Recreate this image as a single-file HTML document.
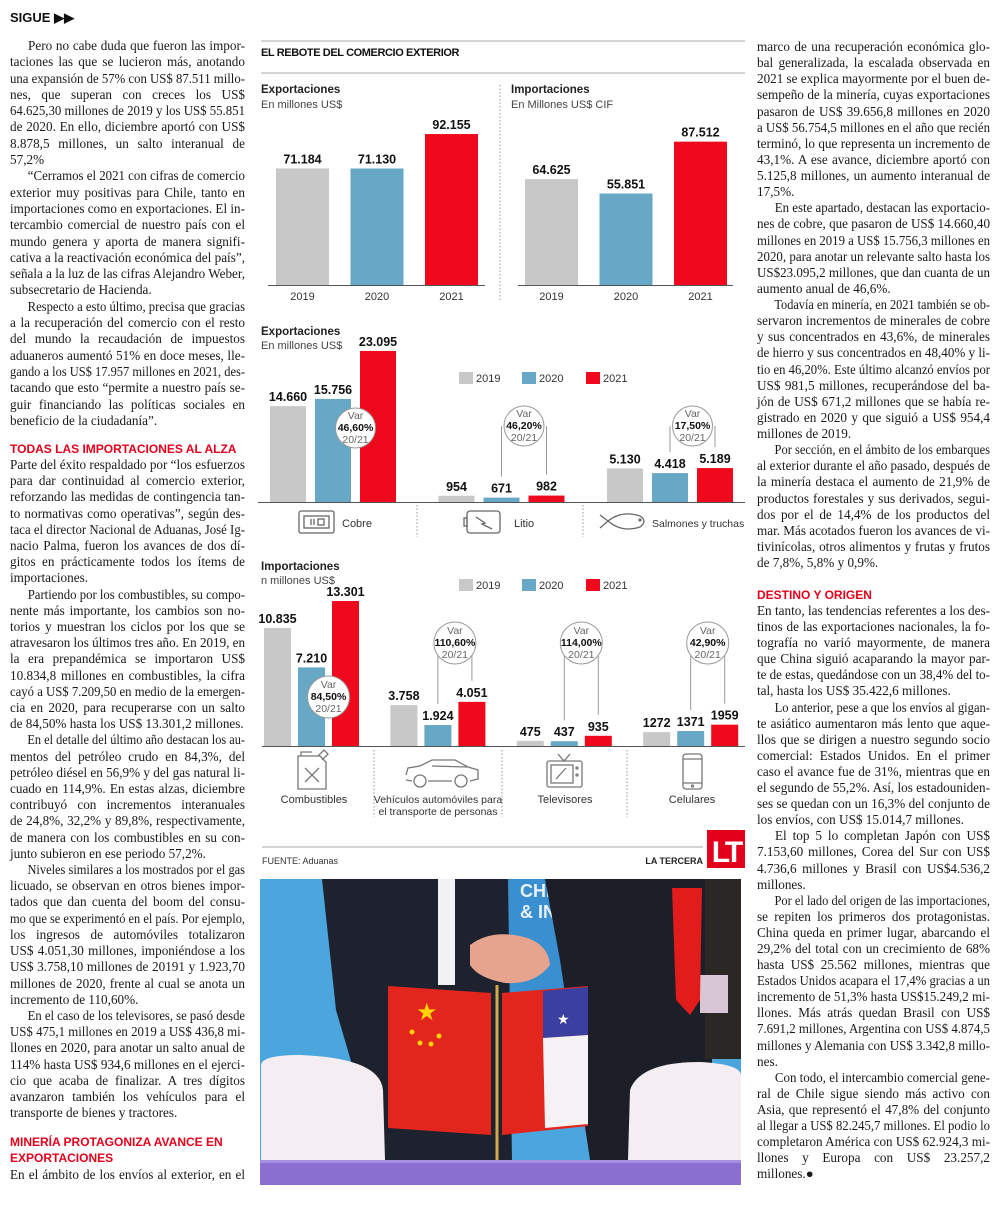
<!DOCTYPE html>
<html><head><meta charset="utf-8">
<style>
html,body{margin:0;padding:0;background:#fff;}
body{width:1000px;height:1213px;position:relative;overflow:hidden;}
#chart{position:absolute;left:0;top:0;}
.col{position:absolute;font-family:"Liberation Serif",serif;font-size:13.2px;color:#1a1a1a;}
.l{white-space:nowrap;text-align:justify;text-align-last:justify;overflow:visible;}
.l.e{text-align:left;text-align-last:left;}
.l.i{text-indent:9px;}
.l span{display:inline-block;transform-origin:0 50%;}
.hd{position:absolute;font-family:"Liberation Sans",sans-serif;font-weight:bold;font-size:12px;color:#e3001b;white-space:nowrap;}
</style></head>
<body>
<svg id="chart" width="1000" height="1213" viewBox="0 0 1000 1213" xmlns="http://www.w3.org/2000/svg" font-family="Liberation Sans, sans-serif">
  <text x="10" y="22" font-size="13" font-weight="bold" fill="#111">SIGUE ▶▶</text>
  <line x1="261" y1="41" x2="745" y2="41" stroke="#aaa" stroke-width="1"/>
  <text x="261" y="56" font-size="11" font-weight="bold" fill="#111" letter-spacing="-0.4">EL REBOTE DEL COMERCIO EXTERIOR</text>
  <line x1="261" y1="73" x2="745" y2="73" stroke="#aaa" stroke-width="1"/>
  <text x="261" y="93" font-size="11.5" font-weight="bold" fill="#222">Exportaciones</text>
  <text x="261" y="108" font-size="11" fill="#444">En millones US$</text>
  <text x="511" y="93" font-size="11.5" font-weight="bold" fill="#222">Importaciones</text>
  <text x="511" y="108" font-size="11" fill="#444">En Millones US$ CIF</text>
  <line x1="500" y1="85" x2="500" y2="302" stroke="#999" stroke-dasharray="1.5,2"/>
  <line x1="268" y1="285.5" x2="485" y2="285.5" stroke="#555"/>
  <line x1="518" y1="285.5" x2="733" y2="285.5" stroke="#555"/>

  <text x="261" y="335" font-size="11.5" font-weight="bold" fill="#222">Exportaciones</text>
  <text x="261" y="349" font-size="11" fill="#444">En millones US$</text>
  <line x1="258" y1="502.5" x2="745" y2="502.5" stroke="#555"/>
  <line x1="417" y1="505" x2="417" y2="537" stroke="#999" stroke-dasharray="1.5,2"/>
  <line x1="583" y1="505" x2="583" y2="537" stroke="#999" stroke-dasharray="1.5,2"/>
  <g fill="none" stroke="#666" stroke-width="1.3">
    <rect x="299" y="511" width="35" height="22" rx="2"/><rect x="304" y="516" width="25" height="12"/>
    <line x1="311" y1="519" x2="311" y2="525"/><line x1="314" y1="519" x2="314" y2="525"/><rect x="318" y="519" width="6" height="6"/>
  </g>
  <text x="342" y="527" font-size="11" fill="#333">Cobre</text>
  <g fill="none" stroke="#666" stroke-width="1.3">
    <rect x="467" y="511" width="33" height="22" rx="3"/><rect x="464" y="518" width="3" height="8"/>
    <path d="M476 517 L485 523 L482 524 L492 529"/>
  </g>
  <text x="514" y="527" font-size="11" fill="#333">Litio</text>
  <g fill="none" stroke="#666" stroke-width="1.3">
    <path d="M600 515 L608 521 L600 528 M608 521 Q622 510 640 516 Q648 521 640 527 Q622 533 608 521"/><circle cx="640" cy="520" r="1"/>
  </g>
  <text x="652" y="527" font-size="10.5" fill="#333">Salmones y truchas</text>

  <text x="261" y="570" font-size="11.5" font-weight="bold" fill="#222">Importaciones</text>
  <text x="261" y="584" font-size="11" fill="#444">n millones US$</text>
  <line x1="262" y1="746.5" x2="745" y2="746.5" stroke="#555"/>
  <line x1="374" y1="750" x2="374" y2="817" stroke="#999" stroke-dasharray="1.5,2"/>
  <line x1="502" y1="750" x2="502" y2="817" stroke="#999" stroke-dasharray="1.5,2"/>
  <line x1="627" y1="750" x2="627" y2="817" stroke="#999" stroke-dasharray="1.5,2"/>
  <g fill="none" stroke="#777" stroke-width="1.3">
    <path d="M298 756 L320 756 L326 762 L326 789 L298 789 Z"/><path d="M318 756 L324 750 L328 754 L322 760"/>
    <path d="M305 768 L319 782 M319 768 L305 782"/><path d="M301 756 L301 752 L312 752"/>
  </g>
  <text x="314" y="803" font-size="11" fill="#333" text-anchor="middle">Combustibles</text>
  <g fill="none" stroke="#777" stroke-width="1.3">
    <path d="M406 775 L408 768 L420 766 L432 760 L455 760 L468 767 L478 770 L478 779 L470 781 M452 781 L428 781 M412 781 L406 780 Z"/>
    <circle cx="420" cy="781" r="6"/><circle cx="461" cy="781" r="6"/><line x1="432" y1="766" x2="467" y2="767"/>
  </g>
  <text x="438" y="803" font-size="10.5" fill="#333" text-anchor="middle">Vehículos automóviles para</text>
  <text x="438" y="815" font-size="10.5" fill="#333" text-anchor="middle">el transporte de personas</text>
  <g fill="none" stroke="#777" stroke-width="1.3">
    <rect x="547" y="761" width="35" height="26" rx="2"/><rect x="551" y="765" width="22" height="18"/>
    <path d="M556 779 L566 768 M558 754 L564 761 L570 754"/><circle cx="577" cy="768" r="1"/><circle cx="577" cy="775" r="1"/>
  </g>
  <text x="565" y="803" font-size="11" fill="#333" text-anchor="middle">Televisores</text>
  <g fill="none" stroke="#777" stroke-width="1.3">
    <rect x="683" y="754" width="19" height="35" rx="3"/><line x1="683" y1="759" x2="702" y2="759"/><line x1="683" y1="783" x2="702" y2="783"/><circle cx="692.5" cy="786" r="1"/>
  </g>
  <text x="692" y="803" font-size="11" fill="#333" text-anchor="middle">Celulares</text>

  <line x1="262" y1="847" x2="703" y2="847" stroke="#aaa"/>
  <text x="262" y="864" font-size="9" fill="#333">FUENTE: Aduanas</text>
  <text x="703" y="864" font-size="9" font-weight="bold" fill="#222" text-anchor="end">LA TERCERA</text>
  <rect x="707" y="830" width="38" height="38" fill="#e3001b"/>
  <text x="726" y="862" font-size="30" font-weight="bold" fill="#fff" text-anchor="middle" letter-spacing="-3">LT</text>

  <g>
    <clipPath id="ph"><rect x="260" y="879" width="481" height="306"/></clipPath>
    <g clip-path="url(#ph)">
      <rect x="260" y="879" width="481" height="306" fill="#4aa6dc"/>
      <rect x="505" y="879" width="150" height="180" fill="#3a8fd0"/>
      <text x="520" y="897" font-size="18" font-weight="bold" fill="#e8f2fb">CHILE I</text>
      <text x="520" y="918" font-size="18" font-weight="bold" fill="#e8f2fb">&amp; INVE</text>
      <ellipse cx="640" cy="1110" rx="60" ry="60" fill="#6a8fe0" opacity="0.7"/>
      <path d="M322 879 L508 879 L512 1160 L380 1160 L336 1010 Z" fill="#1e222f"/>
      <rect x="438" y="879" width="17" height="106" fill="#f2f2f2"/>
      <path d="M545 879 L712 879 L712 1070 L650 1160 L590 1160 L560 960 Z" fill="#1c1f28"/>
      <rect x="705" y="879" width="36" height="180" fill="#2b2724"/>
      <rect x="700" y="975" width="28" height="38" fill="#d8c6d6"/>
      <path d="M672 888 L702 888 L700 1000 L690 1015 L676 1000 Z" fill="#e21b1b"/>
      <path d="M470 945 Q490 930 520 936 Q548 942 550 965 Q535 985 505 983 Q478 978 470 965 Z" fill="#e6a38d"/>
      <path d="M261 1065 Q262 1055 300 1055 Q380 1058 383 1090 L385 1160 L261 1160 Z" fill="#f4eef3"/>
      <path d="M628 1160 L630 1090 Q640 1062 700 1062 Q740 1064 741 1075 L741 1160 Z" fill="#f4eef3"/>
      <path d="M388 986 L491 993 L491 1135 L388 1128 Z" fill="#e3261d"/>
      <text x="416" y="1020" font-size="24" fill="#ffd400">★</text>
      <circle cx="412" cy="1032" r="2.5" fill="#ffd400"/><circle cx="420" cy="1043" r="2.5" fill="#ffd400"/><circle cx="431" cy="1044" r="2.5" fill="#ffd400"/><circle cx="439" cy="1036" r="2.5" fill="#ffd400"/>
      <path d="M502 993 L588 986 L588 1126 L502 1135 Z" fill="#e3261d"/>
      <path d="M543 991 L588 987 L588 1035 L543 1038 Z" fill="#3a3fa0"/>
      <path d="M543 1038 L588 1035 L588 1124 L545 1128 Z" fill="#f5f2f5"/>
      <text x="557" y="1024" font-size="14" fill="#fff">★</text>
      <line x1="497" y1="985" x2="497" y2="1168" stroke="#d4a94a" stroke-width="3"/>
      <rect x="260" y="1160" width="481" height="25" fill="#8a6fd0"/>
      <rect x="260" y="1160" width="481" height="3" fill="#a58fe0"/>
    </g>
  </g>
  <g id="marks"></g>
</svg>

<div class="col" id="left" style="left:10px;top:0;width:235px;">
<div style="position:absolute;top:38px;left:0;width:235px;line-height:16.3px;">
<div class="l i">Pero no cabe duda que fueron las impor-</div>
<div class="l">taciones las que se lucieron más, anotando</div>
<div class="l">una expansión de 57% con US$ 87.511 millo-</div>
<div class="l">nes, que superan con creces los US$</div>
<div class="l">64.625,30 millones de 2019 y los US$ 55.851</div>
<div class="l">de 2020. En ello, diciembre aportó con US$</div>
<div class="l">8.878,5 millones, un salto interanual de</div>
<div class="l e">57,2%</div>
<div class="l i">“Cerramos el 2021 con cifras de comercio</div>
<div class="l">exterior muy positivas para Chile, tanto en</div>
<div class="l">importaciones como en exportaciones. El in-</div>
<div class="l">tercambio comercial de nuestro país con el</div>
<div class="l">mundo genera y aporta de manera signifi-</div>
<div class="l">cativa a la reactivación económica del país”,</div>
<div class="l">señala a la luz de las cifras Alejandro Weber,</div>
<div class="l e">subsecretario de Hacienda.</div>
<div class="l i">Respecto a esto último, precisa que gracias</div>
<div class="l">a la recuperación del comercio con el resto</div>
<div class="l">del mundo la recaudación de impuestos</div>
<div class="l">aduaneros aumentó 51% en doce meses, lle-</div>
<div class="l">gando a los US$ 17.957 millones en 2021, des-</div>
<div class="l">tacando que esto “permite a nuestro país se-</div>
<div class="l">guir financiando las políticas sociales en</div>
<div class="l e">beneficio de la ciudadanía”.</div>
</div>
<div class="hd" style="left:0;top:442px;">TODAS LAS IMPORTACIONES AL ALZA</div>
<div style="position:absolute;top:457px;left:0;width:235px;line-height:16.2px;">
<div class="l">Parte del éxito respaldado por “los esfuerzos</div>
<div class="l">para dar continuidad al comercio exterior,</div>
<div class="l">reforzando las medidas de contingencia tan-</div>
<div class="l">to normativas como operativas”, según des-</div>
<div class="l">taca el director Nacional de Aduanas, José Ig-</div>
<div class="l">nacio Palma, fueron los avances de dos dí-</div>
<div class="l">gitos en prácticamente todos los ítems de</div>
<div class="l e">importaciones.</div>
<div class="l i">Partiendo por los combustibles, su compo-</div>
<div class="l">nente más importante, los cambios son no-</div>
<div class="l">torios y muestran los ciclos por los que se</div>
<div class="l">atravesaron los últimos tres año. En 2019, en</div>
<div class="l">la era prepandémica se importaron US$</div>
<div class="l">10.834,8 millones en combustibles, la cifra</div>
<div class="l">cayó a US$ 7.209,50 en medio de la emergen-</div>
<div class="l">cia en 2020, para recuperarse con un salto</div>
<div class="l e">de 84,50% hasta los US$ 13.301,2 millones.</div>
<div class="l i">En el detalle del último año destacan los au-</div>
<div class="l">mentos del petróleo crudo en 84,3%, del</div>
<div class="l">petróleo diésel en 56,9% y del gas natural li-</div>
<div class="l">cuado en 114,9%. En estas alzas, diciembre</div>
<div class="l">contribuyó con incrementos interanuales</div>
<div class="l">de 24,8%, 32,2% y 89,8%, respectivamente,</div>
<div class="l">de manera con los combustibles en su con-</div>
<div class="l e">junto subieron en ese periodo 57,2%.</div>
<div class="l i">Niveles similares a los mostrados por el gas</div>
<div class="l">licuado, se observan en otros bienes impor-</div>
<div class="l">tados que dan cuenta del boom del consu-</div>
<div class="l">mo que se experimentó en el país. Por ejemplo,</div>
<div class="l">los ingresos de automóviles totalizaron</div>
<div class="l">US$ 4.051,30 millones, imponiéndose a los</div>
<div class="l">US$ 3.758,10 millones de 20191 y 1.923,70</div>
<div class="l">millones de 2020, frente al cual se anota un</div>
<div class="l e">incremento de 110,60%.</div>
<div class="l i">En el caso de los televisores, se pasó desde</div>
<div class="l">US$ 475,1 millones en 2019 a US$ 436,8 mi-</div>
<div class="l">llones en 2020, para anotar un salto anual de</div>
<div class="l">114% hasta US$ 934,6 millones en el ejerci-</div>
<div class="l">cio que acaba de finalizar. A tres dígitos</div>
<div class="l">avanzaron también los vehículos para el</div>
<div class="l e">transporte de bienes y tractores.</div>
</div>
<div class="hd" style="left:0;top:1135px;">MINERÍA PROTAGONIZA AVANCE EN</div>
<div class="hd" style="left:0;top:1151px;">EXPORTACIONES</div>
<div style="position:absolute;top:1167px;left:0;width:235px;line-height:16.2px;">
<div class="l">En el ámbito de los envíos al exterior, en el</div>
</div>
</div>

<div class="col" id="right" style="left:757px;top:0;width:233px;">
<div style="position:absolute;top:39px;left:0;width:233px;line-height:16.12px;">
<div class="l">marco de una recuperación económica glo-</div>
<div class="l">bal generalizada, la escalada observada en</div>
<div class="l">2021 se explica mayormente por el buen de-</div>
<div class="l">sempeño de la minería, cuyas exportaciones</div>
<div class="l">pasaron de US$ 39.656,8 millones en 2020</div>
<div class="l">a US$ 56.754,5 millones en el año que recién</div>
<div class="l">terminó, lo que representa un incremento de</div>
<div class="l">43,1%. A ese avance, diciembre aportó con</div>
<div class="l">5.125,8 millones, un aumento interanual de</div>
<div class="l e">17,5%.</div>
<div class="l i">En este apartado, destacan las exportacio-</div>
<div class="l">nes de cobre, que pasaron de US$ 14.660,40</div>
<div class="l">millones en 2019 a US$ 15.756,3 millones en</div>
<div class="l">2020, para anotar un relevante salto hasta los</div>
<div class="l">US$23.095,2 millones, que dan cuanta de un</div>
<div class="l e">aumento anual de 46,6%.</div>
<div class="l i">Todavía en minería, en 2021 también se ob-</div>
<div class="l">servaron incrementos de minerales de cobre</div>
<div class="l">y sus concentrados en 43,6%, de minerales</div>
<div class="l">de hierro y sus concentrados en 48,40% y li-</div>
<div class="l">tio en 46,20%. Este último alcanzó envíos por</div>
<div class="l">US$ 981,5 millones, recuperándose del ba-</div>
<div class="l">jón de US$ 671,2 millones que se había re-</div>
<div class="l">gistrado en 2020 y que siguió a US$ 954,4</div>
<div class="l e">millones de 2019.</div>
<div class="l i">Por sección, en el ámbito de los embarques</div>
<div class="l">al exterior durante el año pasado, después de</div>
<div class="l">la minería destaca el aumento de 21,9% de</div>
<div class="l">productos forestales y sus derivados, segui-</div>
<div class="l">dos por el de 14,4% de los productos del</div>
<div class="l">mar. Más acotados fueron los avances de vi-</div>
<div class="l">tivinícolas, otros alimentos y frutas y frutos</div>
<div class="l e">de 7,8%, 5,8% y 0,9%.</div>
</div>
<div class="hd" style="left:0;top:588px;">DESTINO Y ORIGEN</div>
<div style="position:absolute;top:603px;left:0;width:233px;line-height:16.1px;">
<div class="l">En tanto, las tendencias referentes a los des-</div>
<div class="l">tinos de las exportaciones nacionales, la fo-</div>
<div class="l">tografía no varió mayormente, de manera</div>
<div class="l">que China siguió acaparando la mayor par-</div>
<div class="l">te de estas, quedándose con un 38,4% del to-</div>
<div class="l e">tal, hasta los US$ 35.422,6 millones.</div>
<div class="l i">Lo anterior, pese a que los envíos al gigan-</div>
<div class="l">te asiático aumentaron más lento que aque-</div>
<div class="l">llos que se dirigen a nuestro segundo socio</div>
<div class="l">comercial: Estados Unidos. En el primer</div>
<div class="l">caso el avance fue de 31%, mientras que en</div>
<div class="l">el segundo de 55,2%. Así, los estadouniden-</div>
<div class="l">ses se quedan con un 16,3% del conjunto de</div>
<div class="l e">los envíos, con US$ 15.014,7 millones.</div>
<div class="l i">El top 5 lo completan Japón con US$</div>
<div class="l">7.153,60 millones, Corea del Sur con US$</div>
<div class="l">4.736,6 millones y Brasil con US$4.536,2</div>
<div class="l e">millones.</div>
<div class="l i">Por el lado del origen de las importaciones,</div>
<div class="l">se repiten los primeros dos protagonistas.</div>
<div class="l">China queda en primer lugar, abarcando el</div>
<div class="l">29,2% del total con un crecimiento de 68%</div>
<div class="l">hasta US$ 25.562 millones, mientras que</div>
<div class="l">Estados Unidos acapara el 17,4% gracias a un</div>
<div class="l">incremento de 51,3% hasta US$15.249,2 mi-</div>
<div class="l">llones. Más atrás quedan Brasil con US$</div>
<div class="l">7.691,2 millones, Argentina con US$ 4.874,5</div>
<div class="l">millones y Alemania con US$ 3.342,8 millo-</div>
<div class="l e">nes.</div>
<div class="l i">Con todo, el intercambio comercial gene-</div>
<div class="l">ral de Chile sigue siendo más activo con</div>
<div class="l">Asia, que representó el 47,8% del conjunto</div>
<div class="l">al llegar a US$ 82.245,7 millones. El podio lo</div>
<div class="l">completaron América con US$ 62.924,3 mi-</div>
<div class="l">llones y Europa con US$ 23.257,2</div>
<div class="l e">millones.●</div>
</div>
</div>

<script>
// ---- data ----
const years = ['2019', '2020', '2021'];
const exportTotals = [71184, 71130, 92155];
const importTotals = [64625, 55851, 87512];
const exportProducts = ['Cobre', 'Litio', 'Salmones y truchas'];
const exportP2019 = [14660, 954, 5130];
const exportP2020 = [15756, 671, 4418];
const exportP2021 = [23095, 982, 5189];
const exportVar = ['46,60%', '46,20%', '17,50%'];
const importProducts = ['Combustibles', 'Vehiculos', 'Televisores', 'Celulares'];
const importP2019 = [10835, 3758, 475, 1272];
const importP2020 = [7210, 1924, 437, 1371];
const importP2021 = [13301, 4051, 935, 1959];
const importVar = ['84,50%', '110,60%', '114,00%', '42,90%'];
const importPlainLabels = [false, false, false, true];

const NS = 'http://www.w3.org/2000/svg';
const COLORS = ['#c8c8c9', '#66a8c5', '#f0081c'];
const g = document.getElementById('marks');
function mk(tag, a) {
  const e = document.createElementNS(NS, tag);
  for (const k in a) e.setAttribute(k, a[k]);
  g.appendChild(e);
  return e;
}
function fmt(v, plain) {
  if (plain) return String(v);
  return String(v).replace(/\B(?=(\d{3})+(?!\d))/g, '.');
}

// ---- top totals ----
const topBase = 285, topScale = 0.001638;
function yTop(v) { return topBase - v * topScale; }
function drawTotals(vals, x0, key) {
  vals.forEach((v, i) => {
    const x = x0 + i * 74.5, y = yTop(v);
    const r = mk('rect', {x: x, y: y, width: 53, height: topBase - y, fill: COLORS[i]});
    
    
    const t = mk('text', {x: x + 26.5, y: y - 5, 'font-size': 12.5, 'font-weight': 'bold', fill: '#111', 'text-anchor': 'middle'});
    t.textContent = fmt(v);
    
    
    const yl = mk('text', {x: x + 26.5, y: 300, 'font-size': 11, fill: '#333', 'text-anchor': 'middle'});
    yl.textContent = years[i];
    
    
  });
}
drawTotals(exportTotals, 276, 'export-total');
drawTotals(importTotals, 525, 'import-total');

// ---- legends ----
function legend(y, key) {
  const xs = [459, 522, 586];
  years.forEach((yr, i) => {
    const s = mk('rect', {x: xs[i], y: y - 6, width: 14, height: 12, fill: COLORS[i]});
    
    
    const t = mk('text', {x: xs[i] + 17, y: y + 4, 'font-size': 11, fill: '#333'});
    t.textContent = yr;
    
    
  });
}
legend(378, 'export-products');
legend(585, 'import-products');

// ---- grouped bars ----
function varBubble(cx, cy, r, pct, key) {
  const c = mk('circle', {cx: cx, cy: cy, r: r, fill: '#fff', stroke: '#999', 'stroke-width': 1});
  
  
  const lines = [['Var', 'normal', -9], [pct, 'bold', 3], ['20/21', 'normal', 15]];
  lines.forEach(l => {
    const t = mk('text', {x: cx, y: cy + l[2], 'font-size': 10.5, 'font-weight': l[1], fill: l[1] === 'bold' ? '#111' : '#666', 'text-anchor': 'middle'});
    t.textContent = l[0];
    
    
  });
}
function grouped(series, cats, base, scale, gx0, gstep, bstep, bw, vars, bubbleY, bubbleR, firstY, plain, key) {
  cats.forEach((cat, gi) => {
    const gx = gx0 + gi * gstep;
    const tops = [];
    series.forEach((arr, si) => {
      const v = arr[gi];
      const x = gx + si * bstep, y = base - v * scale;
      tops.push({cx: x + bw / 2, y: y});
      const r = mk('rect', {x: x, y: y, width: bw, height: v * scale, fill: COLORS[si]});
      
      
      const t = mk('text', {x: x + bw / 2, y: y - 5, 'font-size': 12.5, 'font-weight': 'bold', fill: '#111', 'text-anchor': 'middle'});
      t.textContent = fmt(v, plain && plain[gi]);
      
      
    });
    const cx = (tops[1].cx + tops[2].cx) / 2;
    if (gi === 0) {
      varBubble(cx, firstY, bubbleR, vars[gi], key + '-' + cat.toLowerCase());
    } else {
      [1, 2].forEach(k => {
        const ln = mk('line', {x1: tops[k].cx, y1: bubbleY, x2: tops[k].cx, y2: tops[k].y - 21, stroke: '#999', 'stroke-width': 1});
        
        
      });
      varBubble(cx, bubbleY, bubbleR, vars[gi], key + '-' + cat.toLowerCase().replace(/\s+/g, '-'));
    }
  });
}
grouped([exportP2019, exportP2020, exportP2021], exportProducts, 502, 0.00654, 270, 168.5, 45, 36, exportVar, 426, 20, 428, null, 'export-products');
grouped([importP2019, importP2020, importP2021], importProducts, 746, 0.0109, 264, 126.4, 34, 27, importVar, 643, 21, 697, importPlainLabels, 'import-products');

// ---- fit justified text lines ----
document.querySelectorAll('.l').forEach(d => {
  const w = d.parentNode.clientWidth - (d.classList.contains('i') ? 9 : 0);
  const span = document.createElement('span');
  span.textContent = d.textContent;
  d.textContent = '';
  d.appendChild(span);
  const sw = span.getBoundingClientRect().width;
  if (sw > w) {
    span.style.transform = 'scaleX(' + (w / sw) + ')';
    span.style.width = sw + 'px';
    d.style.textAlignLast = 'left';
    d.style.textAlign = 'left';
  } else if (!d.classList.contains('e')) {
    const words = span.textContent.split(' ');
    const gaps = words.length - 1;
    if (gaps > 0) span.style.wordSpacing = ((w - sw) / gaps) + 'px';
  }
});
</script>
</body></html>
